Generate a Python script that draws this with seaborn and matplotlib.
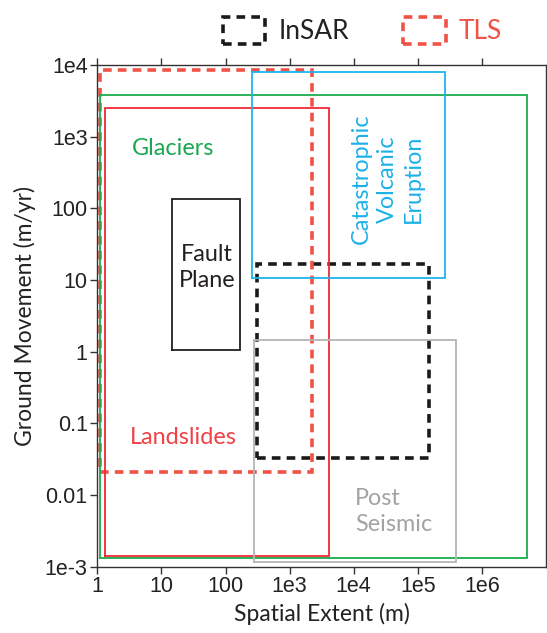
import matplotlib
matplotlib.use("Agg")
import matplotlib.pyplot as plt
from matplotlib.patches import Patch
import seaborn as sns

# Phenomena: spatial extent (m) vs. ground movement (m/yr) envelopes
regions = ["Glaciers", "Landslides", "Fault\nPlane",
           "Catastrophic\nVolcanic\nEruption", "Post\nSeismic"]
region_x_min = [1.1, 1.3, 14.7, 257, 283]
region_x_max = [5.0e6, 4.1e3, 170, 2.7e5, 4.0e5]
region_y_min = [1.3e-3, 1.4e-3, 1.05, 10.8, 1.15e-3]
region_y_max = [3.8e3, 2.5e3, 136, 8.0e3, 1.45]

# Observation techniques (dashed envelopes)
techniques = ["InSAR", "TLS"]
tech_x_min = [310, 1.1]
tech_x_max = [1.5e5, 2.2e3]
tech_y_min = [0.033, 0.021]
tech_y_max = [17, 8.7e3]

x_ticks = [1, 10, 100, 1e3, 1e4, 1e5, 1e6]
x_tick_labels = ["1", "10", "100", "1e3", "1e4", "1e5", "1e6"]
y_ticks = [1e-3, 1e-2, 0.1, 1, 10, 100, 1e3, 1e4]
y_tick_labels = ["1e-3", "0.01", "0.1", "1", "10", "100", "1e3", "1e4"]

region_colors = ["#1aab4b", "#ee2a35", "#231f20", "#1cb4ea", "#b5b5b5"]
region_text_colors = ["#1aa851", "#ef4146", "#231f20", "#1cb1e7", "#a3a3a3"]
tech_colors = ["#1a1a1a", "#f15246"]

# label anchors (data coordinates) and alignment
label_x = [3.4, 21.7, 51, 3.4e4, 1.05e4]
label_y = [682, 0.064, 14.8, 260, 5.9e-3]
label_ha = ["left", "center", "center", "center", "left"]
label_rot = [0, 0, 0, 90, 0]

sns.set_theme(style="white")
plt.rcParams["font.family"] = ["Lato", "DejaVu Sans"]

fig = plt.figure(figsize=(5.47, 6.33), dpi=100)
ax = fig.add_axes([0.178, 0.105, 0.820, 0.792])
ax.set_xscale("log")
ax.set_yscale("log")

dash = (0, (2.4, 1.7))


def outline(x0, x1, y0, y1):
    return [x0, x1, x1, x0, x0], [y0, y0, y1, y1, y0]


for name, x0, x1, y0, y1, c in zip(techniques, tech_x_min, tech_x_max,
                                     tech_y_min, tech_y_max, tech_colors):
    xs, ys = outline(x0, x1, y0, y1)
    sns.lineplot(x=xs, y=ys, sort=False, estimator=None, ax=ax, color=c,
                 linewidth=2.6, linestyle=dash, dash_joinstyle="miter",
                 zorder=2)

for name, x0, x1, y0, y1, c in zip(regions, region_x_min, region_x_max,
                                     region_y_min, region_y_max, region_colors):
    xs, ys = outline(x0, x1, y0, y1)
    sns.lineplot(x=xs, y=ys, sort=False, estimator=None, ax=ax, color=c,
                 linewidth=1.3, solid_joinstyle="miter", zorder=3)

for name, x, y, ha, rot, c in zip(regions, label_x, label_y, label_ha,
                                  label_rot, region_text_colors):
    ax.text(x, y, name, ha=ha, va="center", rotation=rot, color=c,
            fontsize=16.8, linespacing=1.3, zorder=4)

ax.set_xlim(1, 1e7)
ax.set_ylim(1e-3, 1e4)
ax.set_xticks(x_ticks)
ax.set_xticklabels(x_tick_labels)
ax.set_yticks(y_ticks)
ax.set_yticklabels(y_tick_labels)
ax.minorticks_off()
ax.tick_params(axis="both", which="major", direction="out", length=5,
               width=1.0, color="#333333", labelsize=15.5, pad=2,
               labelcolor="#222222")
ax.tick_params(axis="x", top=True, bottom=True)
ax.tick_params(axis="y", left=True, right=False)
for lbl in ax.get_xticklabels() + ax.get_yticklabels():
    lbl.set_fontfamily(["Liberation Sans", "DejaVu Sans"])

for s in ax.spines.values():
    s.set_color("#333333")
    s.set_linewidth(1.0)

ax.set_xlabel("Spatial Extent (m)", fontsize=16.5, color="#222222", labelpad=4)
ax.set_ylabel("Ground Movement (m/yr)", fontsize=16.5, color="#222222",
              labelpad=6)

handles = [Patch(facecolor="none", edgecolor=c, linewidth=2.6, linestyle=dash)
           for c in tech_colors]
leg = fig.legend(handles, techniques, loc="center", ncol=2,
                 bbox_to_anchor=(0.663, 0.952), frameon=False, fontsize=19,
                 handlelength=1.6, handleheight=1.2, handletextpad=0.5,
                 columnspacing=2.05)
for txt, c in zip(leg.get_texts(), ["#222222", "#f15246"]):
    txt.set_color(c)

fig.savefig("out.png", dpi=100)
